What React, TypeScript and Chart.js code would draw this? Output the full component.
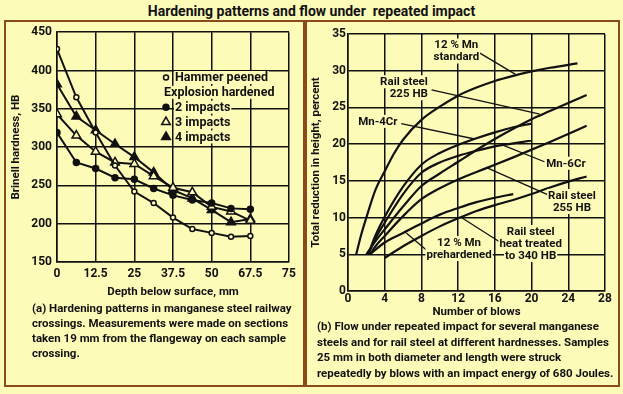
import React, { useEffect, useRef } from "react";
import { Chart, registerables } from "chart.js";
import { drawPoint } from "chart.js/helpers";

Chart.register(...registerables);

// ---------------- Panel (a) data ----------------
const depthMm = [0, 6.25, 12.5, 18.75, 25, 31.25, 37.5, 43.75, 50, 56.25, 62.5];
const depthTickValues = [0, 12.5, 25, 37.5, 50, 62.5, 75];
const depthTickLabels = ["0", "12.5", "25", "37.5", "50", "67.5", "75"];
const hammerPeenedHB = [428, 365, 319, 276, 242, 227, 208, 193, 188, 183, 184];
const twoImpactsHB = [319, 280, 272, 260, 258, 246, 237, 231, 227, 220, 219];
const threeImpactsHB = [343, 315, 294, 280, 278, 262, 247, 241, 222, 216, 204];
const fourImpactsHB = [382, 340, 322, 304, 287, 267, 244, 233, 218, 202, 206];

// ---------------- Panel (b) data ----------------
const mnStandardBlows = [0.9, 1.4, 2, 3, 4, 5, 6, 8, 10, 12, 14, 16, 18, 20, 22, 25];
const mnStandardPct = [5, 7.5, 10, 13.8, 16.3, 18.7, 20.6, 23.3, 25.1, 26.6, 27.7, 28.6, 29.3, 29.9, 30.4, 31.0];
const rail225Blows = [2, 3, 4, 6, 8, 10, 12, 14, 16, 18, 20, 22, 24, 26];
const rail225Pct = [5, 6.8, 8.4, 11.5, 14.3, 16.0, 17.6, 19.2, 20.7, 22.1, 23.4, 24.5, 25.6, 26.7];
const mn4CrBlows = [2.2, 3, 4, 6, 8, 10, 12, 14, 16, 18, 20];
const mn4CrPct = [5, 7.6, 10.1, 14.2, 17.2, 18.8, 19.9, 20.8, 21.6, 22.3, 22.8];
const mn6CrBlows = [2.2, 3, 4, 6, 8, 10, 12, 14, 16, 18, 20];
const mn6CrPct = [5, 7.2, 9.3, 13.2, 16.1, 17.5, 18.4, 19.1, 19.7, 20.1, 20.5];
const rail255Blows = [2.4, 3, 4, 6, 8, 10, 12, 15, 18, 22, 26];
const rail255Pct = [5, 6.1, 7.5, 10.2, 12.5, 14.0, 15.2, 16.7, 18.2, 20.3, 22.5];
const mnPrehardBlows = [2.4, 4, 6, 8, 10, 12, 14, 16, 18];
const mnPrehardPct = [5, 6.6, 7.9, 9.2, 10.4, 11.3, 12.1, 12.7, 13.2];
const rail340Blows = [4, 6, 8, 10, 12, 14, 16, 18, 20, 22, 24, 26];
const rail340Pct = [4.5, 6.1, 7.5, 8.8, 9.9, 10.9, 11.7, 12.4, 13.2, 14.1, 14.9, 15.6];

// annotation texts (anchors in data units)
const flowLabels = [
  { lines: ["12 % Mn", "standard"], x: 11.8, y: 33.5, align: "center", from: [14.1, 32.6], to: [18.25, 29.5] },
  { lines: ["Rail steel", "225 HB"], x: 8.7, y: 28.5, align: "right", from: [9.1, 27.4], to: [20.9, 24.1] },
  { lines: ["Mn-4Cr"], x: 5.4, y: 23.1, align: "right", from: [5.8, 22.8], to: [13.8, 20.7] },
  { lines: ["Mn-6Cr"], x: 21.6, y: 17.4, align: "left", from: [21.4, 17.6], to: [17.0, 19.8] },
  { lines: ["Rail steel", "255 HB"], x: 24.4, y: 13.0, align: "center", from: [21.8, 13.1], to: [15.1, 16.8] },
  { lines: ["12 % Mn", "prehardened"], x: 12.1, y: 6.6, align: "center", from: [8.7, 5.4], to: [6.35, 7.9] },
  { lines: ["Rail steel", "heat treated", "to 340 HB"], x: 19.9, y: 8.1, align: "center", from: [16.5, 6.7], to: [12.35, 10.0] },
];

const legendItems = [
  { label: "Hammer peened", style: "circle", filled: false, r: 2.5 },
  { label: "Explosion hardened", style: "", filled: false, r: 0 },
  { label: "2 impacts", style: "circle", filled: true, r: 3 },
  { label: "3 impacts", style: "triangle", filled: false, r: 5 },
  { label: "4 impacts", style: "triangle", filled: true, r: 5 },
];

const BG = "#fdfbb8";
const INK = "#111111";
const BORDER = "#8a4a1a";
const FONT = "Roboto, 'DejaVu Sans', sans-serif";
const FS = 11.5;

Chart.defaults.font.family = FONT;
Chart.defaults.font.weight = "bold";
Chart.defaults.font.size = FS;
Chart.defaults.color = INK;

function textWithBg(ctx: CanvasRenderingContext2D, text: string, x: number, y: number, align: CanvasTextAlign) {
  const w = ctx.measureText(text).width;
  let left = x;
  if (align === "center") left = x - w / 2;
  else if (align === "right") left = x - w;
  ctx.fillStyle = BG;
  ctx.fillRect(left - 1, y - 6.5, w + 2, 13);
  ctx.fillStyle = INK;
  ctx.textAlign = "left";
  ctx.textBaseline = "middle";
  ctx.fillText(text, left, y + 0.5);
}

const legendPlugin = {
  id: "hardLegend",
  afterDatasetsDraw(chart: any) {
    const { ctx, chartArea } = chart;
    ctx.save();
    ctx.font = `bold 12.5px ${FONT}`;
    legendItems.forEach((it, i) => {
      const y = chartArea.top + 45.3 + i * 14.85;
      const mx = chartArea.left + 109;
      if (it.style) {
        ctx.lineWidth = 1.5;
        ctx.strokeStyle = INK;
        ctx.fillStyle = it.filled ? INK : BG;
        drawPoint(ctx, { pointStyle: it.style, radius: it.r, borderWidth: 1.5, rotation: 0 } as any, mx, y);
        textWithBg(ctx, it.label, chartArea.left + 118, y, "left");
      } else {
        textWithBg(ctx, it.label, chartArea.left + 107, y, "left");
      }
    });
    ctx.restore();
  },
};

const flowLabelPlugin = {
  id: "flowLabels",
  afterDatasetsDraw(chart: any) {
    const { ctx, scales } = chart;
    const xs = scales.x, ys = scales.y;
    ctx.save();
    ctx.strokeStyle = INK;
    ctx.lineWidth = 1.3;
    flowLabels.forEach((l) => {
      ctx.beginPath();
      ctx.moveTo(xs.getPixelForValue(l.from[0]), ys.getPixelForValue(l.from[1]));
      ctx.lineTo(xs.getPixelForValue(l.to[0]), ys.getPixelForValue(l.to[1]));
      ctx.stroke();
    });
    ctx.font = `bold ${FS}px ${FONT}`;
    flowLabels.forEach((l) => {
      const px = xs.getPixelForValue(l.x);
      const py = ys.getPixelForValue(l.y);
      l.lines.forEach((t, i) => textWithBg(ctx, t, px, py + i * 12, l.align as CanvasTextAlign));
    });
    ctx.restore();
  },
};

const gridOpts = { color: INK, lineWidth: 1.5, drawTicks: false };
const borderOpts = { display: true, color: INK, width: 1.5 };

function pts(xs: number[], ys: number[]) {
  return xs.map((x, i) => ({ x, y: ys[i] }));
}

function HardeningChart() {
  const ref = useRef<HTMLCanvasElement>(null);
  useEffect(() => {
    const mk = (label: string, ys: number[], style: string, filled: boolean, r: number) => ({
      label,
      data: pts(depthMm, ys),
      borderColor: INK,
      borderWidth: 2,
      pointStyle: style,
      pointRadius: r,
      pointBorderWidth: 1.5,
      pointBorderColor: INK,
      pointBackgroundColor: filled ? INK : BG,
      tension: 0,
    });
    const chart = new Chart(ref.current!, {
      type: "line",
      data: {
        datasets: [
          mk("Hammer peened", hammerPeenedHB, "circle", false, 2.5),
          mk("2 impacts", twoImpactsHB, "circle", true, 3),
          mk("3 impacts", threeImpactsHB, "triangle", false, 5),
          mk("4 impacts", fourImpactsHB, "triangle", true, 5),
        ],
      },
      options: {
        responsive: false,
        animation: false,
        layout: { padding: { left: 0, top: 12, right: 16, bottom: 8 } },
        plugins: { legend: { display: false }, tooltip: { enabled: false } },
        scales: {
          x: {
            type: "linear",
            min: 0,
            max: 75,
            afterBuildTicks: (axis: any) => {
              axis.ticks = depthTickValues.map((v) => ({ value: v }));
            },
            afterFit: (axis: any) => {
              axis.height = 40;
            },
            ticks: {
              autoSkip: false,
              maxRotation: 0,
              padding: 5,
              font: { size: 12 },
              callback: (v: any) => depthTickLabels[depthTickValues.indexOf(Number(v))] ?? "",
            },
            grid: gridOpts,
            border: borderOpts,
            title: { display: true, text: "Depth below surface, mm", padding: { top: 0, bottom: 3 } },
          },
          y: {
            type: "linear",
            min: 150,
            max: 450,
            afterFit: (axis: any) => {
              axis.width = 53;
            },
            ticks: { stepSize: 50, padding: 5, font: { size: 12 } },
            grid: gridOpts,
            border: borderOpts,
            title: { display: true, text: "Brinell hardness, HB", padding: { top: 5.5, bottom: 0 } },
          },
        },
      } as any,
      plugins: [legendPlugin],
    });
    return () => chart.destroy();
  }, []);
  return (
    <canvas
      ref={ref}
      width={301}
      height={290}
      style={{ position: "absolute", left: 4, top: 20, width: 301, height: 290 }}
    />
  );
}

function FlowChart() {
  const ref = useRef<HTMLCanvasElement>(null);
  useEffect(() => {
    const mk = (label: string, xs: number[], ys: number[]) => ({
      label,
      data: pts(xs, ys),
      borderColor: INK,
      borderWidth: 2.2,
      pointRadius: 0,
      cubicInterpolationMode: "monotone",
    });
    const chart = new Chart(ref.current!, {
      type: "line",
      data: {
        datasets: [
          mk("12 % Mn standard", mnStandardBlows, mnStandardPct),
          mk("Rail steel 225 HB", rail225Blows, rail225Pct),
          mk("Mn-4Cr", mn4CrBlows, mn4CrPct),
          mk("Mn-6Cr", mn6CrBlows, mn6CrPct),
          mk("Rail steel 255 HB", rail255Blows, rail255Pct),
          mk("12 % Mn prehardened", mnPrehardBlows, mnPrehardPct),
          mk("Rail steel heat treated to 340 HB", rail340Blows, rail340Pct),
        ],
      },
      options: {
        responsive: false,
        animation: false,
        layout: { padding: { left: 0, top: 14, right: 14, bottom: 4 } },
        plugins: { legend: { display: false }, tooltip: { enabled: false } },
        scales: {
          x: {
            type: "linear",
            min: 0,
            max: 28,
            afterFit: (axis: any) => {
              axis.height = 30;
            },
            ticks: { stepSize: 4, autoSkip: false, maxRotation: 0, padding: 1, font: { size: 12 } },
            grid: gridOpts,
            border: borderOpts,
            title: { display: true, text: "Number of blows", padding: { top: 0, bottom: 2 } },
          },
          y: {
            type: "linear",
            min: 0,
            max: 35,
            afterFit: (axis: any) => {
              axis.width = 43;
            },
            ticks: { stepSize: 5, padding: 2, font: { size: 12 } },
            grid: gridOpts,
            border: borderOpts,
            title: { display: true, text: "Total reduction in height, percent", padding: { top: 3.8, bottom: 0 } },
          },
        },
      } as any,
      plugins: [flowLabelPlugin],
    });
    return () => chart.destroy();
  }, []);
  return (
    <canvas
      ref={ref}
      width={314}
      height={305}
      style={{ position: "absolute", left: 305, top: 20, width: 314, height: 305 }}
    />
  );
}

const textStyle: React.CSSProperties = {
  position: "absolute",
  fontFamily: FONT,
  fontWeight: "bold",
  fontSize: FS,
  color: INK,
  whiteSpace: "pre",
};

export default function App() {
  return (
    <div
      style={{
        position: "absolute",
        left: 0,
        top: 0,
        width: 623,
        height: 394,
        background: BG,
        overflow: "hidden",
      }}
    >
      <div
        style={{
          ...textStyle,
          left: 0,
          width: 623,
          top: 2,
          fontSize: 14,
          lineHeight: "18px",
          textAlign: "center",
        }}
      >
        {"Hardening patterns and flow under  repeated impact"}
      </div>
      <div
        style={{
          position: "absolute",
          left: 4,
          top: 20,
          width: 301,
          height: 367,
          boxSizing: "border-box",
          border: `2px solid ${BORDER}`,
        }}
      />
      <div
        style={{
          position: "absolute",
          left: 305,
          top: 20,
          width: 315,
          height: 367,
          boxSizing: "border-box",
          border: `2px solid ${BORDER}`,
        }}
      />
      <HardeningChart />
      <FlowChart />
      <div style={{ ...textStyle, left: 32, top: 301, lineHeight: "15px" }}>
        {"(a) Hardening patterns in manganese steel railway\ncrossings. Measurements were made on sections\ntaken 19 mm from the flangeway on each sample\ncrossing."}
      </div>
      <div style={{ ...textStyle, left: 317, top: 319, lineHeight: "15.5px" }}>
        {"(b) Flow under repeated impact for several manganese\nsteels and for rail steel at different hardnesses. Samples\n25 mm in both diameter and length were struck\nrepeatedly by blows with an impact energy of 680 Joules."}
      </div>
    </div>
  );
}
